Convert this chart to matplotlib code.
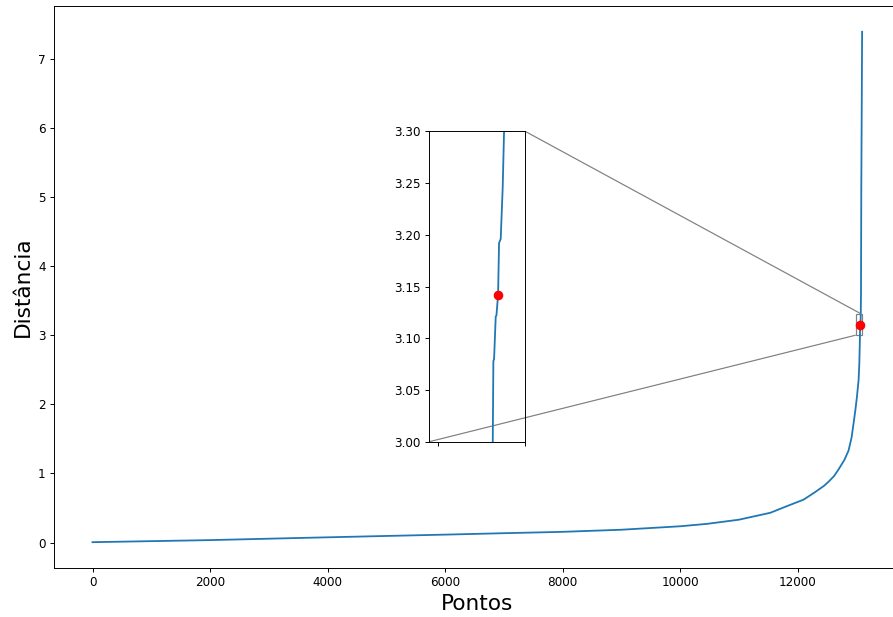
import matplotlib.pyplot as plt
from mpl_toolkits.axes_grid1.inset_locator import mark_inset

# k-distance curve (sorted distances), sampled along the index axis
pontos = [0, 1000, 2000, 3570, 5000, 6088, 7000, 7978, 9000, 10000, 10458,
          11000, 11535, 11800, 12102, 12300, 12450, 12528, 12620, 12700, 12800,
          12868, 12920, 12953, 12985, 13011, 13039, 13052, 13060,
          13063.0, 13063.7, 13064.5, 13066.4, 13067.2, 13069.1, 13070.2,
          13072.1, 13074.4, 13075.9, 13080, 13085, 13092, 13099]
distancia = [0.005, 0.02, 0.035, 0.067, 0.095, 0.116, 0.135, 0.154, 0.185, 0.235, 0.27,
             0.33, 0.43, 0.52, 0.62, 0.73, 0.82, 0.88, 0.96, 1.06, 1.2,
             1.33, 1.52, 1.72, 1.92, 2.11, 2.35, 2.6, 2.9,
             3.000, 3.078, 3.080, 3.121, 3.122, 3.142, 3.192,
             3.196, 3.246, 3.299, 3.6, 5.1, 6.2, 7.39]

# chosen elbow point
cotovelo_x = 13069.1
cotovelo_y = 3.142

# zoom window
zoom_x = (12990, 13100)
zoom_y = (3.0, 3.3)
zoom_xticks = [13000, 13100]
zoom_yticks = [3.00, 3.05, 3.10, 3.15, 3.20, 3.25, 3.30]

dpi = 86.4
fig = plt.figure(figsize=(893 / dpi, 617 / dpi), dpi=dpi)
ax = fig.add_axes([0.0605, 0.0799, 0.948, 0.910])

ax.plot(pontos, distancia)
ax.plot(cotovelo_x, cotovelo_y, 'ro', markersize=7)
ax.set_xlabel("Pontos", fontsize=18)
ax.set_ylabel("Distância", fontsize=18)

# inset with a close-up around the elbow
axins = ax.inset_axes([0.443, 0.2243, 0.1134, 0.553])
axins.plot(pontos, distancia)
axins.plot(cotovelo_x, cotovelo_y, 'ro', markersize=7)
axins.set_xlim(*zoom_x)
axins.set_ylim(*zoom_y)
axins.set_xticks(zoom_xticks)
axins.set_xticklabels([])
axins.set_yticks(zoom_yticks)

mark_inset(ax, axins, loc1=1, loc2=3, fc="none", ec="0.5")

plt.savefig("out.png", dpi=dpi)
plt.close()
